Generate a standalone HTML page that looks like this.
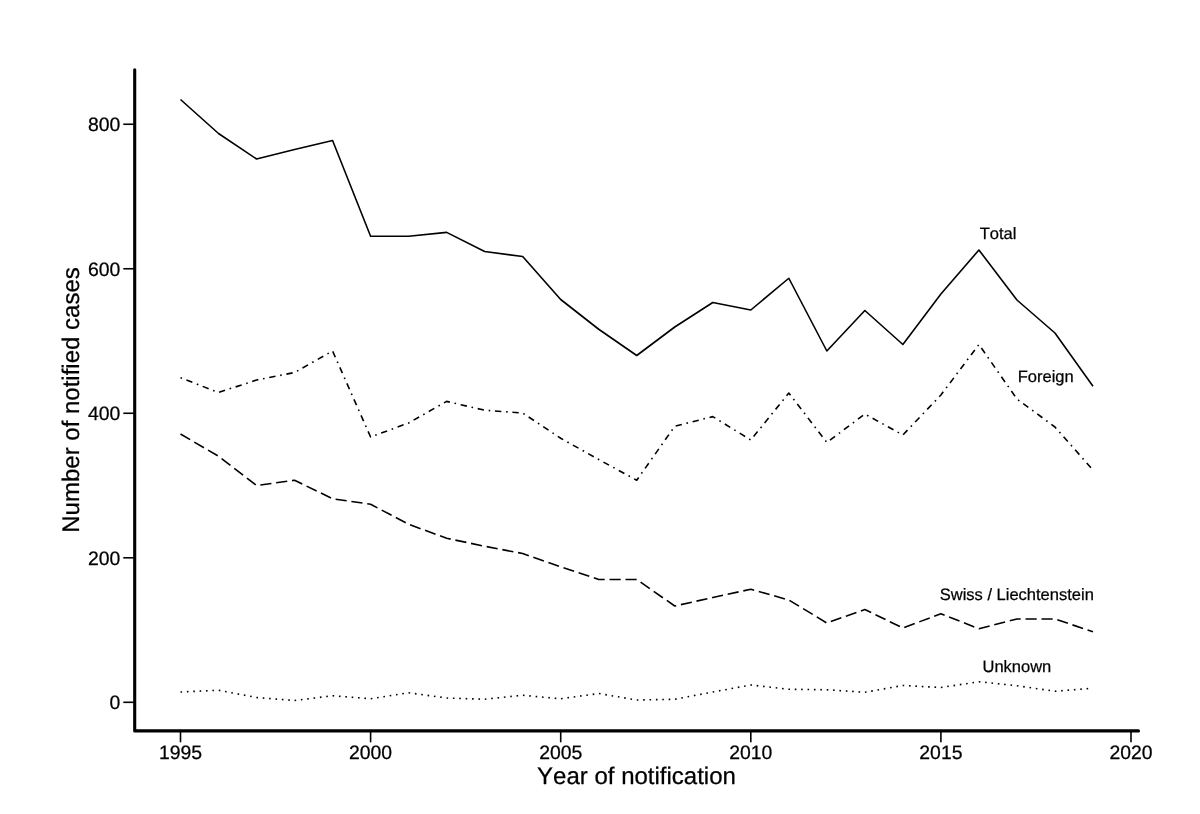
<!DOCTYPE html>
<html lang="en"><head><meta charset="utf-8"><title>Number of notified cases by year of notification</title>
<style>html,body{margin:0;padding:0;background:#fff}body{width:1200px;height:814px;overflow:hidden}svg{display:block}text{font-kerning:none;text-rendering:geometricPrecision;font-family:"Liberation Sans",Arial,Helvetica,sans-serif;fill:#000;stroke:#000;stroke-width:0.25px;stroke-linejoin:round}</style></head><body>
<svg width="1200" height="814" viewBox="0 0 1200 814">
<rect width="1200" height="814" fill="#fff"/>
<g fill="none" stroke="#000" stroke-width="1.60" stroke-linejoin="round" stroke-linecap="butt">
<polyline points="180.50,99.50 218.52,133.50 256.54,159.00 294.56,149.50 332.58,140.50 370.60,236.25 408.62,236.25 446.64,232.40 484.66,251.50 522.68,256.50 560.70,299.50 598.72,329.25 636.74,355.50 674.76,327.00 712.78,302.50 750.80,310.00 788.82,278.25 826.84,351.00 864.86,310.50 902.88,344.50 940.90,294.00 978.92,250.00 1016.94,300.00 1054.96,333.00 1092.98,386.25"/>
<polyline stroke-dasharray="1.5890 4.7670 6.3560 4.7670" points="180.50,377.75 218.52,392.50 256.54,380.00 294.56,372.50 332.58,351.00 370.60,437.00 408.62,423.00 446.64,401.40 484.66,410.25 522.68,413.00 560.70,438.25 598.72,459.50 636.74,480.25 674.76,426.25 712.78,416.60 750.80,440.00 788.82,393.00 826.84,442.50 864.86,414.00 902.88,435.00 940.90,395.00 978.92,344.50 1016.94,399.00 1054.96,427.00 1092.98,470.00"/>
<polyline stroke-dasharray="11.1825 4.7925" points="180.50,434.00 218.52,456.25 256.54,485.50 294.56,480.25 332.58,498.75 370.60,504.25 408.62,524.25 446.64,538.25 484.66,546.25 522.68,553.50 560.70,566.75 598.72,579.50 636.74,579.50 674.76,606.00 712.78,597.50 750.80,589.25 788.82,600.00 826.84,623.00 864.86,609.50 902.88,628.00 940.90,613.75 978.92,628.75 1016.94,619.00 1054.96,619.00 1092.98,631.75"/>
<polyline stroke-dasharray="1.5960 4.7880" points="180.50,692.00 218.52,690.25 256.54,697.50 294.56,700.50 332.58,695.75 370.60,698.75 408.62,692.75 446.64,698.00 484.66,699.25 522.68,695.25 560.70,698.75 598.72,693.50 636.74,700.00 674.76,699.25 712.78,692.00 750.80,685.00 788.82,689.25 826.84,689.75 864.86,692.25 902.88,685.50 940.90,687.50 978.92,681.75 1016.94,685.75 1054.96,691.25 1092.98,688.25"/>
</g>
<g stroke="#000" fill="none">
<polyline points="134.70,69.85 134.70,730.90 1138.50,730.90" stroke-width="3.10" stroke-linecap="round" stroke-linejoin="round"/>
<line x1="123.30" y1="702.30" x2="134.70" y2="702.30" stroke-width="1.6"/>
<line x1="123.30" y1="557.79" x2="134.70" y2="557.79" stroke-width="1.6"/>
<line x1="123.30" y1="413.27" x2="134.70" y2="413.27" stroke-width="1.6"/>
<line x1="123.30" y1="268.76" x2="134.70" y2="268.76" stroke-width="1.6"/>
<line x1="123.30" y1="124.25" x2="134.70" y2="124.25" stroke-width="1.6"/>
<line x1="180.50" y1="730.90" x2="180.50" y2="742.30" stroke-width="1.6"/>
<line x1="370.60" y1="730.90" x2="370.60" y2="742.30" stroke-width="1.6"/>
<line x1="560.70" y1="730.90" x2="560.70" y2="742.30" stroke-width="1.6"/>
<line x1="750.80" y1="730.90" x2="750.80" y2="742.30" stroke-width="1.6"/>
<line x1="940.90" y1="730.90" x2="940.90" y2="742.30" stroke-width="1.6"/>
<line x1="1131.00" y1="730.90" x2="1131.00" y2="742.30" stroke-width="1.6"/>
</g>
<g font-size="19.4px">
<text x="120.3" y="709.15" text-anchor="end">0</text>
<text x="120.3" y="564.64" text-anchor="end">200</text>
<text x="120.3" y="420.12" text-anchor="end">400</text>
<text x="120.3" y="275.61" text-anchor="end">600</text>
<text x="120.3" y="131.10" text-anchor="end">800</text>
<text x="180.50" y="758.8" text-anchor="middle">1995</text>
<text x="370.60" y="758.8" text-anchor="middle">2000</text>
<text x="560.70" y="758.8" text-anchor="middle">2005</text>
<text x="750.80" y="758.8" text-anchor="middle">2010</text>
<text x="940.90" y="758.8" text-anchor="middle">2015</text>
<text x="1131.00" y="758.8" text-anchor="middle">2020</text>
</g>
<g font-size="24px">
<text x="636.5" y="784.3" text-anchor="middle">Year of notification</text>
<text transform="translate(79.2,400) rotate(-90)" text-anchor="middle">Number of notified cases</text>
</g>
<g font-size="16.5px" text-anchor="middle">
<text x="998" y="238.6">Total</text>
<text x="1045.7" y="382.1">Foreign</text>
<text x="1016.8" y="599.6">Swiss / Liechtenstein</text>
<text x="1016.9" y="671.6">Unknown</text>
</g>
</svg></body></html>
